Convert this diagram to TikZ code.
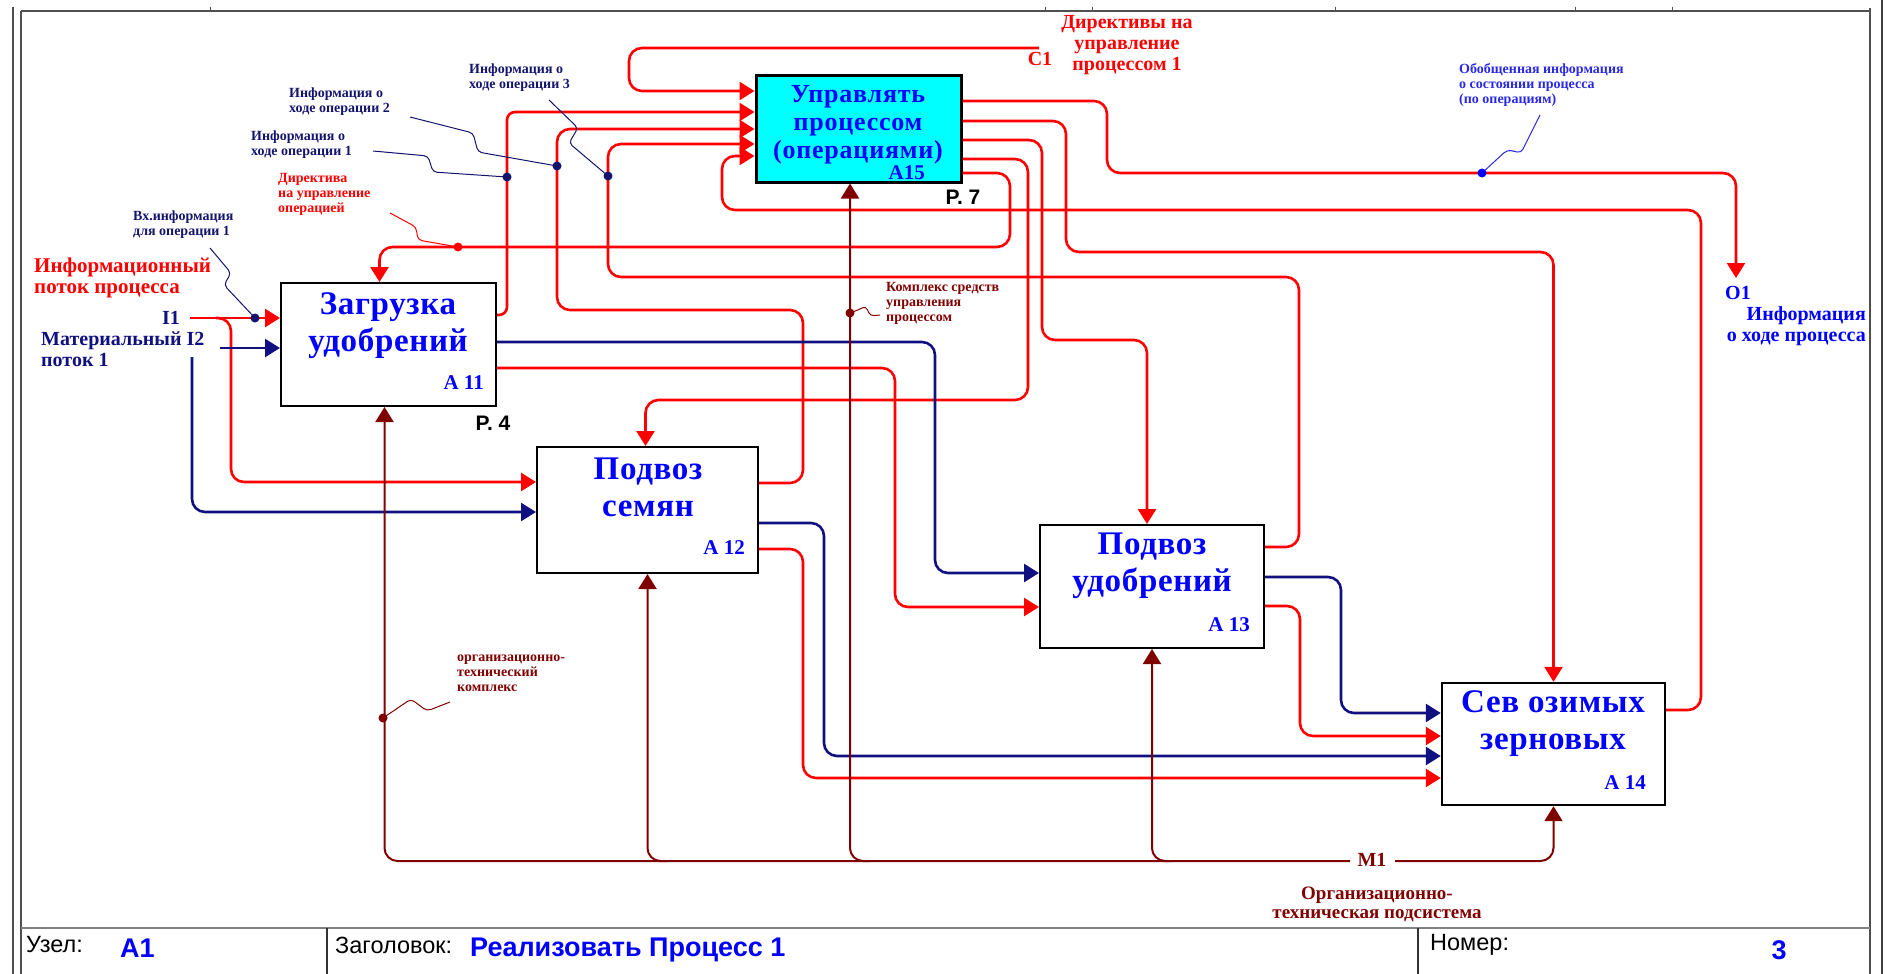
\documentclass[tikz,border=0pt]{standalone}
\usepackage{fontspec}
\setmainfont{Liberation Serif}
\setsansfont{Liberation Sans}
\usetikzlibrary{arrows.meta}

\definecolor{flowred}{RGB}{255,0,0}
\definecolor{flownavy}{RGB}{16,16,128}
\definecolor{mechred}{RGB}{128,0,0}
\definecolor{idblue}{RGB}{0,0,255}
\definecolor{notenavy}{RGB}{20,20,110}
\definecolor{noteblue}{RGB}{40,40,230}
\definecolor{boxcyan}{RGB}{0,255,255}
\definecolor{framegray}{RGB}{80,80,80}

\tikzset{
  actbox/.style={draw=black, line width=2pt, fill=white, inner sep=0pt},
  acttitle/.style={text=idblue, font=\fontsize{33}{37}\selectfont\bfseries\addfontfeature{LetterSpace=2}, align=center, inner sep=0pt},
  actid/.style={text=idblue, font=\fontsize{21}{21}\selectfont\bfseries, anchor=east, inner sep=0pt},
  pagetag/.style={font=\sffamily\bfseries\fontsize{21}{21}\selectfont, inner sep=0pt},
  endarrow/.style={-{Triangle[length=15pt,width=18pt]}},
  redflow/.style={color=flowred, line width=2.6pt, rounded corners=13pt},
  navyflow/.style={color=flownavy, line width=2.6pt, rounded corners=13pt},
  mechflow/.style={color=mechred, line width=2pt, rounded corners=13pt},
  leader/.style={line width=1pt, rounded corners=4pt},
  smallnote/.style={font=\fontsize{14}{15}\selectfont\bfseries, align=left, inner sep=0pt, anchor=west},
  bignote/.style={font=\fontsize{20}{21}\selectfont\bfseries, inner sep=0pt},
  titletext/.style={font=\sffamily\fontsize{23.5}{24}\selectfont, inner sep=0pt, anchor=west},
  titlevalue/.style={font=\sffamily\bfseries\fontsize{27}{27}\selectfont, text=idblue, inner sep=0pt},
}

\begin{document}
\begin{tikzpicture}[x=1pt,y=-1pt]
\useasboundingbox (0,0) rectangle (1888,974);

% ---- sheet frame ----
\draw[framegray, line width=1.2pt] (13,7) -- (13,974);
\draw[framegray, line width=1.2pt] (21,11) -- (21,974);
\draw[framegray, line width=1.2pt] (21,11) -- (1870,11);
\draw[framegray, line width=1.2pt] (1870,8) -- (1870,974);
\draw[black!75, line width=1.8pt] (1882,0) -- (1882,974);
\foreach \tx in {210,1045,1092,1335,1575,1672}
  \draw[framegray, line width=1pt] (\tx,7) -- (\tx,11);

% ---- title block ----
\draw[gray, line width=1.6pt] (21,928) -- (1870,928);
\draw[black!80, line width=1.2pt] (327,928) -- (327,974);
\draw[black!80, line width=1.2pt] (1418,928) -- (1418,974);
\node[titletext] (tnode) at (26,945) {Узел:};
\node[titlevalue, anchor=west] (tnodev) at (120,948) {A1};
\node[titletext] (ttitle) at (335,945) {Заголовок:};
\node[titlevalue, anchor=west] (ttitlev) at (470,950) {Реализовать Процесс 1};
\node[titletext] (tnum) at (1430,945) {Номер:};
\node[titlevalue] (tnumv) at (1779,950) {3};

% ---- activity boxes ----
\node[actbox, minimum width=215pt, minimum height=123pt] (a11) at (388.5,344.5) {};
\node[actbox, minimum width=221pt, minimum height=126pt] (a12) at (647.5,510) {};
\node[actbox, minimum width=224pt, minimum height=123pt] (a13) at (1152,586.5) {};
\node[actbox, minimum width=223pt, minimum height=122pt, line width=2.4pt] (a14) at (1553.5,744) {};
\node[actbox, fill=boxcyan, line width=3pt, minimum width=205pt, minimum height=106pt] (a15) at (858.5,129) {};

\node[acttitle] (a11t) at (388,326) {Загрузка\\удобрений};
\node[acttitle] (a12t) at (648,487) {Подвоз\\семян};
\node[acttitle] (a13t) at (1152,566) {Подвоз\\удобрений};
\node[acttitle] (a14t) at (1553,724) {Сев озимых\\зерновых};
\node[acttitle, font=\fontsize{26}{28}\selectfont\bfseries\addfontfeature{LetterSpace=3}] (a15t) at (858,125) {Управлять\\процессом\\(операциями)};

\node[actid] (a11i) at (484,383) {A 11};
\node[actid] (a12i) at (745,548) {A 12};
\node[actid] (a13i) at (1250,625) {A 13};
\node[actid] (a14i) at (1646,783) {A 14};
\node[actid] (a15i) at (925,173) {A15};

\node[pagetag] (p4) at (493,423) {P. 4};
\node[pagetag] (p7) at (963,197) {P. 7};

% ---- boundary points ----
\coordinate (i1) at (190,318);
\coordinate (i1b) at (216,318);
\coordinate (i2) at (220,348);
\coordinate (i2b) at (192,357);
\coordinate (c1) at (1039,48);
\coordinate (o1) at (1736,278);
\coordinate (m1l) at (1350,861);
\coordinate (m1r) at (1395,861);

% ---- inputs ----
\draw[redflow, endarrow] (i1) -- (a11.west |- 0,318);
\draw[redflow, endarrow] (i1b) -| (231,482) -- (a12.west |- 0,482);
\draw[navyflow, endarrow] (i2) -- (a11.west |- 0,348);
\draw[navyflow, endarrow] (i2b) |- (a12.west |- 0,512);

% ---- feedback into the control activity ----
\draw[redflow, endarrow] (c1) -| (629,91) -- (a15.west |- 0,91);
\draw[redflow, endarrow, rounded corners=8pt] (a11.east |- 0,315) -| (507,112) -- (a15.west |- 0,112);
\draw[redflow, endarrow] (a12.east |- 0,483) -| (803,310) -| (557,129) -- (a15.west |- 0,129);
\draw[redflow, endarrow] (a13.east |- 0,547) -| (1299,277) -| (608,144) -- (a15.west |- 0,144);
\draw[redflow, endarrow] (a14.east |- 0,710) -| (1701,210) -| (722,156) -- (a15.west |- 0,156);

% ---- directives from the control activity ----
\draw[redflow, endarrow] (a15.east |- 0,101) -| (1107,173) -| (o1);
\draw[redflow, endarrow] (a15.east |- 0,121) -| (1066,252) -| (a14.north);
\draw[redflow, endarrow] (a15.east |- 0,140) -| (1042,340) -| ([xshift=-5pt]a13.north);
\draw[redflow, endarrow] (a15.east |- 0,159) -| (1028,400) -| ([xshift=-2pt]a12.north);
\draw[redflow, endarrow] (a15.east |- 0,173) -| (1010,247) -| ([xshift=-9pt]a11.north);

% ---- material and information flows between operations ----
\draw[navyflow, endarrow] (a11.east |- 0,342) -| (935,573) -- (a13.west |- 0,573);
\draw[redflow, endarrow] (a11.east |- 0,368) -| (895,607) -- (a13.west |- 0,607);
\draw[navyflow, endarrow] (a12.east |- 0,523) -| (824,756) -- (a14.west |- 0,756);
\draw[redflow, endarrow] (a12.east |- 0,549) -| (803,778) -- (a14.west |- 0,778);
\draw[navyflow, endarrow] (a13.east |- 0,577) -| (1341,713) -- (a14.west |- 0,713);
\draw[redflow, endarrow] (a13.east |- 0,606) -| (1300,736) -- (a14.west |- 0,736);

% ---- mechanisms ----
\draw[mechflow, endarrow] (m1l) -| ([xshift=-4pt]a11.south);
\draw[mechflow, endarrow] (668,861) -| (a12.south);
\draw[mechflow, endarrow] (870,861) -| ([xshift=-8.5pt]a15.south);
\draw[mechflow, endarrow] (1171,861) -| (a13.south);
\draw[mechflow, endarrow] (m1r) -| (a14.south);

% ---- boundary labels ----
\node[bignote, text=flowred, align=left, anchor=west, font=\fontsize{21}{21}\selectfont\bfseries] (lin) at (34,278) {Информационный\\поток процесса};
\node[bignote, text=flownavy] (li1) at (171,318) {I1};
\node[bignote, text=flownavy, align=left, anchor=west] (li2) at (41,349) {Материальный I2\\поток 1};
\node[bignote, text=flowred] (lc1) at (1040,59) {C1};
\node[bignote, text=flowred, align=center] (lc1t) at (1127,45) {Директивы на\\управление\\процессом 1};
\node[bignote, text=idblue] (lo1) at (1738,293) {O1};
\node[bignote, text=idblue, align=right, anchor=east] (lo1t) at (1866,326) {Информация\\о ходе процесса};
\node[bignote, text=mechred] (lm1) at (1372,860) {M1};
\node[bignote, text=mechred, align=center, font=\fontsize{19}{19}\selectfont\bfseries] (lm1t) at (1377,904) {Организационно-\\техническая подсистема};

% ---- arrow notes with leaders ----
\node[smallnote, text=notenavy] (n1) at (133,225) {Вх.информация\\для операции 1};
\node[smallnote, text=flowred] (n2) at (278,194) {Директива\\на управление\\операцией};
\node[smallnote, text=notenavy] (n3) at (251,145) {Информация о\\ходе операции 1};
\node[smallnote, text=notenavy] (n4) at (289,102) {Информация о\\ходе операции 2};
\node[smallnote, text=notenavy] (n5) at (469,78) {Информация о\\ходе операции 3};
\node[smallnote, text=noteblue] (n6) at (1459,85) {Обобщенная информация\\о состоянии процесса\\(по операциям)};
\node[smallnote, text=mechred] (n7) at (886,303) {Комплекс средств\\управления\\процессом};
\node[smallnote, text=mechred] (n8) at (457,673) {организационно-\\технический\\комплекс};

\coordinate (d1) at (255,318);
\coordinate (d2) at (458,247);
\coordinate (d3) at (507,177);
\coordinate (d4) at (557,166);
\coordinate (d5) at (608,176);
\coordinate (d6) at (1482,173);
\coordinate (d7) at (850,313);
\coordinate (d8) at (383,718);

\draw[leader, notenavy] (210,248) -- (231,273) -- (224,285) -- (d1);
\draw[leader, flowred] (390,213) -- (416,227) -- (418,240) -- (d2);
\draw[leader, notenavy] (373,151) -- (428,156) -- (433,172) -- (d3);
\draw[leader, notenavy] (410,117) -- (473,133) -- (478,152) -- (d4);
\draw[leader, notenavy] (549,100) -- (578,128) -- (569,143) -- (d5);
\draw[leader, noteblue] (1540,115) -- (1521,153) -- (1513,151) -- (1507,150) -- (d6);
\draw[leader, mechred] (880,315) -- (870,316) -- (866,306) -- (858,310) -- (d7);
\draw[leader, mechred] (450,702) -- (427,711) -- (411,699) -- (d8);

\fill[notenavy] (d1) circle (4.5pt);
\fill[flowred] (d2) circle (4.5pt);
\fill[notenavy] (d3) circle (4.5pt);
\fill[notenavy] (d4) circle (4.5pt);
\fill[notenavy] (d5) circle (4.5pt);
\fill[idblue] (d6) circle (4.5pt);
\fill[mechred] (d7) circle (4.5pt);
\fill[mechred] (d8) circle (4.5pt);
\end{tikzpicture}
\end{document}
